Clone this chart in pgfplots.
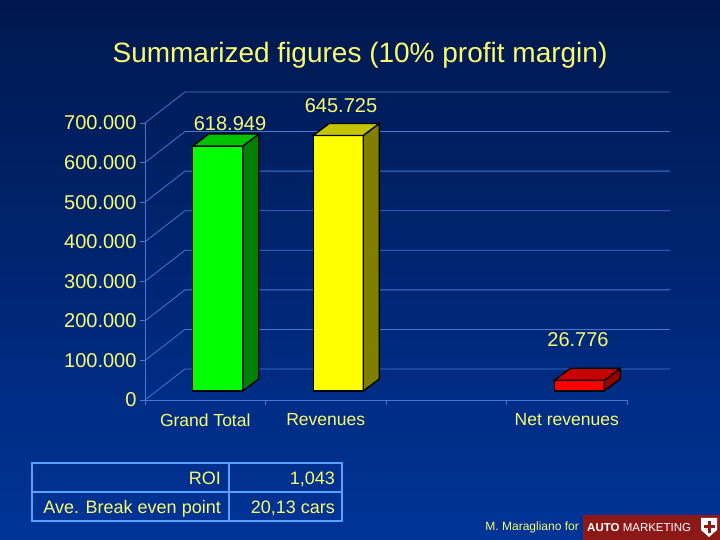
\documentclass[border=0pt]{standalone}
\usepackage{pgfplots}
\pgfplotsset{compat=1.18}
\usepackage{fontspec}
\setmainfont{Liberation Sans}
\definecolor{bgtop}{RGB}{0,24,78}
\definecolor{bgbot}{RGB}{0,52,152}
\definecolor{gridblue}{RGB}{70,120,210}
\definecolor{lblyellow}{RGB}{250,250,110}
\definecolor{tableblue}{RGB}{90,160,255}
\definecolor{gfront}{RGB}{0,255,0}
\definecolor{gside}{RGB}{0,128,0}
\definecolor{gtop}{RGB}{0,195,0}
\definecolor{yfront}{RGB}{255,255,0}
\definecolor{yside}{RGB}{128,128,0}
\definecolor{ytop}{RGB}{195,195,0}
\definecolor{rfront}{RGB}{255,0,0}
\definecolor{rside}{RGB}{150,0,0}
\definecolor{rtop}{RGB}{200,0,0}
\definecolor{logored}{RGB}{140,24,24}
\begin{document}
\begin{tikzpicture}[x=1pt,y=1pt]
\shade[top color=bgtop, bottom color=bgbot] (0,0) rectangle (720,540);
\useasboundingbox (0,0) rectangle (720,540);
\node[text=lblyellow, font=\fontsize{28}{32}\selectfont, anchor=base] at (360,477) {Summarized figures (10\% profit margin)};

% front plane axis with walls
\begin{axis}[at={(145pt,140pt)}, anchor=south west, scale only axis,
  width=482pt, height=277pt,
  xmin=-0.5, xmax=3.5, ymin=0, ymax=700000, clip=false,
  axis x line*=bottom, axis y line*=left,
  axis line style={-, draw=gridblue, line width=0.8pt},
  ytick={0,100000,200000,300000,400000,500000,600000,700000},
  yticklabels={0,100.000,200.000,300.000,400.000,500.000,600.000,700.000},
  scaled y ticks=false,
  xtick={0,1,3}, xticklabels={Grand Total,Revenues,Net revenues},
  minor xtick={-0.5,0.5,1.5,2.5,3.5},
  tick align=outside, major tick length=5pt, minor tick length=5pt,
  tick style={draw=gridblue, line width=0.8pt},
  major x tick style={draw=none},
  ticklabel style={text=lblyellow},
  yticklabel style={font=\fontsize{20}{24}\selectfont},
  xticklabel style={font=\fontsize{17.5}{21}\selectfont, yshift=-5pt},
]
\pgfplotsinvokeforeach{0,100000,200000,300000,400000,500000,600000,700000}{
  \draw[gridblue, line width=0.8pt] (axis cs:-0.5,#1) -- ++(40pt,31pt) -- ++(485pt,0pt);
}
\end{axis}

% bars
\begin{axis}[at={(157.5pt,149pt)}, anchor=south west, scale only axis,
  width=482pt, height=277pt,
  xmin=-0.5, xmax=3.5, ymin=0, ymax=700000, clip=false, hide axis]
% Grand Total
\addplot[ybar, bar shift=0pt, bar width=50pt, fill=gfront, draw=black, line width=1.3pt] coordinates {(0,618949)};
\addplot[fill=gside, draw=black, line width=1.3pt] coordinates {(0.2075,0) (0.2075,618949) (0.3402,649274) (0.3402,30325)} -- cycle;
\addplot[fill=gtop, draw=black, line width=1.3pt] coordinates {(-0.2075,618949) (0.2075,618949) (0.3402,649274) (-0.0747,649274)} -- cycle;
% Revenues
\addplot[ybar, bar shift=0pt, bar width=50pt, fill=yfront, draw=black, line width=1.3pt] coordinates {(1,645725)};
\addplot[fill=yside, draw=black, line width=1.3pt] coordinates {(1.2075,0) (1.2075,645725) (1.3402,676050) (1.3402,30325)} -- cycle;
\addplot[fill=ytop, draw=black, line width=1.3pt] coordinates {(0.7925,645725) (1.2075,645725) (1.3402,676050) (0.9253,676050)} -- cycle;
% Net revenues
\addplot[ybar, bar shift=0pt, bar width=50pt, fill=rfront, draw=black, line width=1.3pt] coordinates {(3,26776)};
\addplot[fill=rside, draw=black, line width=1.3pt] coordinates {(3.2075,0) (3.2075,26776) (3.3402,57101) (3.3402,30325)} -- cycle;
\addplot[fill=rtop, draw=black, line width=1.3pt] coordinates {(2.7925,26776) (3.2075,26776) (3.3402,57101) (2.9253,57101)} -- cycle;
\end{axis}

% data labels
\begin{scope}[font=\fontsize{20}{24}\selectfont, text=lblyellow]
\node[anchor=base] at (230,409) {618.949};
\node[anchor=base] at (341,427) {645.725};
\node[anchor=base] at (578,193) {26.776};
\end{scope}

% table
\draw[tableblue, line width=1.2pt] (32,77) rectangle (342,19);
\draw[tableblue, line width=1.2pt] (229,77) -- (229,19);
\draw[tableblue, line width=1.2pt] (32,48) -- (342,48);
\begin{scope}[font=\fontsize{18}{21}\selectfont, text=lblyellow]
\node[anchor=base east, inner sep=0pt] at (221,55) {ROI};
\node[anchor=base east, inner sep=0pt] at (335,55) {1,043};
\node[anchor=base east, inner sep=0pt] at (221,26) {Ave. Break even point};
\node[anchor=base east, inner sep=0pt] at (335,26) {20,13 cars};
\end{scope}

% footer
\fill[logored] (583,0) rectangle (720,25);
\node[anchor=base east, inner sep=0pt, text=lblyellow, font=\fontsize{12}{14}\selectfont] at (579,9) {M. Maragliano for};
\node[anchor=base west, inner sep=0pt, text=white, font=\fontsize{11.5}{13}\selectfont] at (587,8) {\textbf{AUTO} MARKETING};
\fill[white] (701,22) -- (717,22) -- (717,10) -- (709,3) -- (701,10) -- cycle;
\fill[logored] (707.5,7) rectangle (710.5,19);
\fill[logored] (703.5,11.5) rectangle (714.5,14.5);
\end{tikzpicture}
\end{document}
